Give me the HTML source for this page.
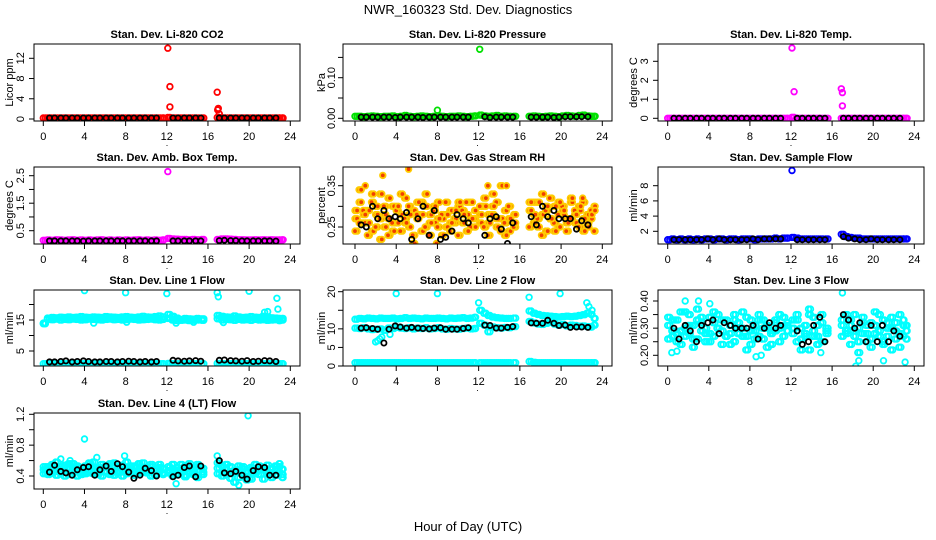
<!DOCTYPE html>
<html><head><meta charset="utf-8"><title>NWR_160323 Std. Dev. Diagnostics</title>
<style>
html,body{margin:0;padding:0;background:#fff;}
svg{display:block;font-family:"Liberation Sans",Arial,sans-serif;}
</style></head>
<body>
<svg id="chart" width="936" height="540" viewBox="0 0 936 540" xmlns="http://www.w3.org/2000/svg">
<rect width="936" height="540" fill="#fff"/>
<text x="468" y="14" text-anchor="middle" font-size="13">NWR_160323  Std. Dev. Diagnostics</text>
<text x="468" y="531" text-anchor="middle" font-size="13">Hour of Day (UTC)</text>
</svg>
<script>
// shared hour categories
const hours = [0,0.4,0.8,1.2,1.6,2,2.4,2.8,3.2,3.6,4,4.4,4.8,5.2,5.6,6,6.4,6.8,7.2,7.6,8,8.4,8.8,9.2,9.6,10,10.4,10.8,11.2,11.6,
 12.1,12.5,12.9,13.3,13.7,14.1,14.5,14.9,15.4,
 16.9,17.3,17.7,18.1,18.5,18.9,19.3,19.7,20.1,20.5,20.9,21.3,21.7,22.1,22.5,22.9,23.2];
const hoursB = [0.2,0.6,1.0,1.4,1.8,2.2,2.6,3.0,3.4,3.8,4.2,4.6,5.0,5.4,5.8,6.2,6.6,7.0,7.4,7.8,8.2,8.6,9.0,9.4,9.8,10.2,10.6,11.0,11.4,11.7,
 12.3,12.7,13.1,13.5,13.9,14.3,14.7,15.1,15.6,
 17.1,17.5,17.9,18.3,18.7,19.1,19.5,19.9,20.3,20.7,21.1,21.5,21.9,22.3,22.7,23.0,23.3];
const avgHours = [0.6,1.1,1.7,2.2,2.8,3.3,3.9,4.4,5.0,5.5,6.1,6.6,7.2,7.7,8.3,8.8,9.4,9.9,10.5,11.0,
 12.6,13.1,13.7,14.2,14.8,15.3,
 17.1,17.6,18.2,18.7,19.3,19.8,20.4,20.9,21.5,22.0,22.6];

// Panel 1: CO2
const co2Sd = [0.2,0.2,0.2,0.2,0.2,0.2,0.2,0.2,0.2,0.2,0.2,0.2,0.2,0.2,0.2,0.2,0.2,0.2,0.2,0.2,0.2,0.2,0.2,0.2,0.2,0.2,0.2,0.2,0.2,0.2,
 0.3,0.2,0.2,0.2,0.2,0.2,0.2,0.2,0.2, 0.3,0.2,0.2,0.2,0.2,0.2,0.2,0.2,0.2,0.2,0.2,0.2,0.2,0.2,0.2,0.2,0.2];
const co2Avg = [0.2,0.2,0.2,0.2,0.2,0.2,0.2,0.2,0.2,0.2,0.2,0.2,0.2,0.2,0.2,0.2,0.2,0.2,0.2,0.2, 0.2,0.2,0.2,0.2,0.2,0.2, 0.2,0.2,0.2,0.2,0.2,0.2,0.2,0.2,0.2,0.2,0.2];
const co2SpikeHours = [12.1,12.3,12.3,16.9,17.0,16.95,17.1];
const co2SpikeValues = [14,6.4,2.4,5.3,2.1,1.8,1.0];

// Panel 2: Pressure
const presSd = [0.005,0.005,0.004,0.005,0.006,0.005,0.004,0.005,0.005,0.006,0.004,0.005,0.007,0.005,0.004,0.005,0.006,0.005,0.004,0.005,0.006,0.005,0.004,0.005,0.005,0.006,0.005,0.004,0.005,0.006,
 0.008,0.006,0.005,0.006,0.007,0.005,0.006,0.005,0.005, 0.005,0.006,0.005,0.004,0.005,0.006,0.005,0.004,0.006,0.007,0.006,0.005,0.007,0.008,0.006,0.005,0.005];
const presAvg = [0.003,0.003,0.003,0.003,0.003,0.003,0.002,0.003,0.003,0.003,0.003,0.002,0.003,0.003,0.003,0.003,0.003,0.003,0.003,0.003, 0.004,0.002,0.003,0.003,0.003,0.003, 0.003,0.003,0.003,0.003,0.002,0.003,0.004,0.004,0.004,0.004,0.004];
const presSpikeHours = [8.0,12.1];
const presSpikeValues = [0.02,0.17];

// Panel 3: Li-820 Temp
const tempSd = [0,0,0,0,0,0,0,0,0,0,0,0,0,0,0,0,0,0,0,0,0,0,0,0,0,0,0,0,0,0, 0.05,0,0,0,0,0,0,0,0, 0,0,0,0,0,0,0,0,0,0,0,0,0,0,0,0,0];
const tempAvg = [0,0,0,0,0,0,0,0,0,0,0,0,0,0,0,0,0,0,0,0, 0,0,0,0,0,0, 0,0,0,0,0,0,0,0,0,0,0];
const tempSpikeHours = [12.1,12.3,16.9,17.0,17.0];
const tempSpikeValues = [3.7,1.4,1.55,1.35,0.65];

// Panel 4: Amb. Box Temp
const boxSd = [0.15,0.16,0.15,0.17,0.16,0.15,0.16,0.17,0.15,0.16,0.15,0.16,0.15,0.16,0.17,0.15,0.16,0.15,0.16,0.15,0.16,0.15,0.16,0.17,0.15,0.16,0.15,0.16,0.15,0.16,
 0.22,0.2,0.19,0.18,0.18,0.17,0.18,0.17,0.18, 0.18,0.2,0.2,0.19,0.18,0.17,0.17,0.16,0.16,0.17,0.16,0.17,0.16,0.17,0.16,0.16,0.17];
const boxAvg = [0.13,0.13,0.13,0.13,0.13,0.13,0.12,0.13,0.13,0.13,0.13,0.13,0.13,0.13,0.13,0.13,0.13,0.13,0.13,0.13, 0.13,0.13,0.13,0.13,0.13,0.13, 0.14,0.15,0.14,0.14,0.13,0.13,0.13,0.13,0.13,0.13,0.12];
const boxSpikeHours = [12.1];
const boxSpikeValues = [2.65];

// Panel 5: Gas Stream RH
const rhA = [0.27,0.31,0.26,0.29,0.24,0.28,0.33,0.25,0.27,0.30,0.26,0.28,0.32,0.25,0.29,0.27,0.24,0.30,0.28,0.26,0.31,0.27,0.25,0.29,0.27,0.30,0.26,0.28,0.31,0.29,
 0.26,0.30,0.28,0.33,0.25,0.27,0.29,0.24,0.28, 0.29,0.26,0.31,0.28,0.24,0.27,0.30,0.25,0.28,0.27,0.31,0.26,0.29,0.24,0.28,0.27,0.30];
const rhB = [0.24,0.26,0.29,0.23,0.31,0.25,0.27,0.30,0.23,0.26,0.29,0.24,0.27,0.30,0.23,0.28,0.31,0.25,0.23,0.29,0.25,0.28,0.31,0.24,0.26,0.23,0.29,0.31,0.25,0.27,
 0.30,0.25,0.23,0.28,0.31,0.24,0.26,0.30,0.25, 0.25,0.31,0.27,0.23,0.29,0.32,0.26,0.28,0.30,0.24,0.27,0.29,0.25,0.31,0.26,0.29,0.24];
const rhC = [0.29,0.34,0.28,0.26,0.33,0.30,0.22,0.28,0.32,0.24,0.30,0.33,0.26,0.28,0.21,0.31,0.28,0.33,0.26,0.30,0.27,0.23,0.28,0.26,0.29,0.31,0.28,0.24,0.27,0.25,
 0.28,0.32,0.26,0.30,0.27,0.35,0.23,0.27,0.26, 0.31,0.28,0.25,0.33,0.30,0.27,0.24,0.31,0.29,0.26,0.32,0.28,0.30,0.27,0.25,0.28,0.29];
const rhAvg = [0.255,0.25,0.30,0.27,0.29,0.27,0.275,0.27,0.285,0.22,0.27,0.30,0.23,0.29,0.22,0.225,0.24,0.28,0.27,0.26, 0.23,0.27,0.275,0.245,0.21,0.26, 0.275,0.255,0.30,0.275,0.29,0.27,0.27,0.27,0.245,0.265,0.255];
const rhSpikeHours = [2.7,5.2,1.0,14.7,12.9,7.9,22.1];
const rhSpikeValues = [0.375,0.39,0.35,0.35,0.35,0.21,0.32];

// Panel 6: Sample Flow
const sampSd = [0.9,1.0,0.9,1.0,0.9,1.0,0.9,1.0,0.9,1.0,1.0,0.9,1.0,1.0,0.9,1.0,1.0,0.9,1.0,1.0,1.0,0.9,1.0,1.0,1.0,1.0,1.1,1.0,1.1,1.1,
 1.2,1.1,1.0,1.0,1.0,1.0,1.0,1.0,1.0, 1.6,1.3,1.2,1.1,1.1,1.0,1.0,1.0,1.0,1.0,1.0,1.0,1.0,1.0,1.0,1.0,1.0];
const sampAvg = [0.9,0.9,0.9,0.9,0.9,0.9,1.0,0.9,1.0,0.9,0.9,0.9,0.9,0.9,1.0,0.9,1.0,1.0,1.0,1.0, 0.9,0.9,0.9,0.9,0.9,0.9, 1.3,1.1,1.0,0.9,0.9,1.0,0.9,0.9,0.9,0.9,0.9];
const sampSpikeHours = [12.1];
const sampSpikeValues = [10];

// Panel 7: Line 1 Flow
const line1Top = [13.8,15.6,15.8,15.7,15.9,15.8,16.0,15.8,15.9,16.1,15.9,15.8,16.0,15.9,15.8,16.1,16.0,15.9,15.8,16.0,16.1,15.9,15.8,16.0,16.2,16.0,15.9,16.1,16.3,16.0,
 16.8,16.2,15.6,15.2,15.5,15.4,15.3,15.5,15.4, 16.5,16.2,16.0,15.9,16.3,16.0,15.8,15.9,16.1,15.9,15.8,16.2,16.0,15.7,15.6,15.5,15.5];
const line1Mid = [14.0,15.2,15.1,15.3,15.0,15.2,15.1,15.3,15.2,15.0,15.1,15.3,15.2,15.1,15.0,15.2,15.3,15.1,15.2,15.0,15.1,15.3,15.2,15.0,15.1,15.2,15.3,15.1,15.0,15.2,
 15.5,15.0,14.8,14.9,15.0,14.8,14.9,15.0,14.9, 15.4,15.0,15.2,15.1,14.9,15.2,15.0,15.1,14.9,15.2,15.0,15.1,14.9,15.0,15.1,14.8,15.0];
const line1Low = [0.9,0.9,0.9,0.9,0.9,0.9,0.9,0.9,0.9,0.9,0.9,0.9,0.9,0.9,0.9,0.9,0.9,0.9,0.9,0.9,0.9,0.9,0.9,0.9,0.9,0.9,0.9,0.9,0.9,0.9,
 1.0,0.9,0.9,0.9,0.9,0.9,0.9,0.9,0.9, 1.0,0.9,0.9,0.9,0.9,0.9,0.9,0.9,0.9,0.9,0.9,0.9,0.9,0.9,0.9,0.9,0.9];
const line1Avg = [1.5,1.5,1.6,1.8,1.5,1.6,1.8,1.6,1.5,1.5,1.6,1.6,1.5,1.6,1.7,1.6,1.5,1.6,1.5,1.6, 2.0,1.8,1.7,1.8,1.9,1.7, 2.0,2.1,1.9,1.8,1.7,1.9,1.6,1.7,1.9,1.8,1.6];
const line1SpikeHours = [4.0,8.0,12.0,16.9,17.0,20.0,22.7,22.8,21.5,21.8,12.9,17.5,4.9,8.1,14.6,0.1];
const line1SpikeValues = [24.5,23.8,23.5,23.8,22.5,24.3,22,18.5,17.5,17.7,14,14.2,14,14.3,14.3,13.8];

// Panel 8: Line 2 Flow
const line2Top = [12.6,12.8,12.7,12.9,12.8,12.7,12.9,12.8,12.8,12.9,12.7,12.8,13.0,12.8,12.9,12.8,12.7,12.9,12.8,12.8,12.9,12.8,12.7,12.9,12.8,12.9,13.0,12.8,12.9,13.1,
 15.0,14.2,13.6,13.2,13.0,12.9,12.8,12.8,12.9, 14.8,14.2,13.9,13.6,13.5,13.4,13.3,13.2,13.3,13.4,13.3,13.4,13.6,13.8,14.2,13.9,12.8];
const line2Mid = [10.2,10.1,10.3,10.0,9.8,9.9,10.0,9.6,10.2,10.1,10.4,10.2,10.1,10.3,10.0,10.2,10.1,10.3,10.0,10.1,10.3,10.0,9.9,10.1,10.0,9.9,10.1,10.2,10.0,10.1,
 11.5,11.0,9.2,10.5,10.3,10.2,10.4,10.3,10.6, 12.0,11.6,11.3,11.2,11.5,11.8,11.3,11.0,11.2,10.8,11.0,10.9,10.7,10.8,10.6,10.5,11.0];
const line2Low = [0.9,0.9,0.9,0.9,0.9,0.9,0.9,0.9,0.9,0.9,0.9,0.9,0.9,0.9,0.9,0.9,0.9,0.9,0.9,0.9,0.9,0.9,0.9,0.9,0.9,0.9,0.9,0.9,0.9,0.9,
 0.9,0.9,0.9,0.9,0.9,0.9,0.9,0.9,0.9, 1.2,1.0,0.9,0.9,0.9,0.9,0.9,0.9,0.9,0.9,0.9,0.9,0.9,0.9,0.9,0.9,0.9];
const line2Avg = [10.2,10.3,10.1,9.9,6.2,9.9,10.8,10.5,10.2,10.4,10.2,10.1,10.0,10.2,10.3,9.9,9.9,9.9,10.1,10.3, 11.0,10.9,10.2,10.2,10.4,10.6, 11.6,11.5,11.5,12.3,11.5,10.9,11.0,10.4,10.5,10.5,10.4];
const line2SpikeHours = [4.0,8.0,12.0,16.9,19.9,2.0,2.2,2.4,2.6,22.5,22.7,23.0,3.4];
const line2SpikeValues = [19.5,19.5,17,18.5,19.5,6.5,6.8,7.3,7.8,17,16,15,8.5];

// Panel 9: Line 3 Flow
const line3A = [0.31,0.27,0.33,0.29,0.36,0.28,0.31,0.26,0.34,0.30,0.28,0.32,0.35,0.29,0.27,0.31,0.33,0.28,0.30,0.34,0.29,0.31,0.27,0.33,0.30,0.28,0.32,0.30,0.34,0.31,
 0.28,0.33,0.26,0.31,0.35,0.29,0.27,0.32,0.30, 0.33,0.29,0.31,0.27,0.30,0.32,0.28,0.26,0.31,0.29,0.33,0.27,0.30,0.32,0.28,0.31,0.29];
const line3B = [0.26,0.33,0.28,0.24,0.30,0.35,0.26,0.33,0.29,0.25,0.34,0.27,0.30,0.24,0.33,0.28,0.25,0.32,0.36,0.27,0.24,0.29,0.33,0.26,0.31,0.24,0.29,0.35,0.27,0.32,
 0.33,0.25,0.30,0.27,0.22,0.34,0.31,0.25,0.28, 0.27,0.35,0.24,0.29,0.25,0.34,0.31,0.23,0.28,0.35,0.25,0.30,0.34,0.26,0.23,0.33,0.26];
const line3C = [0.34,0.29,0.25,0.36,0.27,0.31,0.23,0.37,0.32,0.28,0.25,0.36,0.30,0.33,0.27,0.24,0.35,0.30,0.27,0.22,0.33,0.26,0.35,0.30,0.23,0.29,0.33,0.25,0.31,0.29,
 0.30,0.35,0.22,0.28,0.37,0.27,0.24,0.35,0.29, 0.31,0.28,0.33,0.35,0.21,0.28,0.25,0.32,0.36,0.27,0.24,0.32,0.22,0.29,0.35,0.27,0.31];
const line3Avg = [0.30,0.26,0.31,0.29,0.25,0.31,0.32,0.33,0.28,0.32,0.31,0.30,0.30,0.30,0.31,0.26,0.30,0.32,0.30,0.31, 0.29,0.24,0.25,0.31,0.34,0.25, 0.35,0.33,0.30,0.32,0.25,0.31,0.25,0.31,0.25,0.29,0.27];
const line3SpikeHours = [1.7,3.0,4.1,0.4,0.9,8.6,9.1,17.0,18.3,18.6,23.1,21.0,14.9];
const line3SpikeValues = [0.40,0.40,0.39,0.21,0.215,0.195,0.20,0.43,0.16,0.18,0.175,0.18,0.21];

// Panel 10: Line 4 (LT) Flow
const line4A = [0.48,0.52,0.44,0.50,0.46,0.54,0.42,0.49,0.51,0.45,0.53,0.47,0.43,0.50,0.55,0.46,0.48,0.52,0.44,0.49,0.51,0.45,0.53,0.47,0.50,0.44,0.52,0.48,0.46,0.50,
 0.47,0.43,0.51,0.46,0.53,0.44,0.49,0.52,0.45, 0.50,0.46,0.42,0.52,0.47,0.38,0.49,0.44,0.51,0.46,0.53,0.48,0.43,0.50,0.47,0.52,0.49];
const line4B = [0.43,0.47,0.55,0.41,0.52,0.45,0.49,0.56,0.40,0.50,0.43,0.57,0.49,0.42,0.51,0.45,0.56,0.41,0.50,0.54,0.43,0.49,0.41,0.56,0.45,0.51,0.40,0.47,0.55,0.44,
 0.52,0.40,0.47,0.55,0.41,0.50,0.45,0.38,0.50, 0.43,0.53,0.48,0.37,0.45,0.53,0.41,0.35,0.48,0.55,0.42,0.51,0.46,0.38,0.53,0.45,0.42];
const line4C = [0.52,0.42,0.49,0.58,0.44,0.40,0.56,0.46,0.53,0.42,0.48,0.44,0.58,0.46,0.40,0.53,0.42,0.57,0.47,0.40,0.58,0.53,0.46,0.43,0.57,0.48,0.55,0.41,0.51,0.42,
 0.44,0.55,0.42,0.49,0.39,0.56,0.42,0.55,0.42, 0.57,0.40,0.55,0.45,0.32,0.48,0.52,0.40,0.36,0.43,0.50,0.36,0.54,0.44,0.41,0.56,0.38];
const line4Avg = [0.45,0.54,0.46,0.44,0.41,0.48,0.51,0.52,0.41,0.48,0.53,0.46,0.56,0.52,0.45,0.37,0.41,0.50,0.47,0.40, 0.39,0.41,0.51,0.53,0.39,0.53, 0.60,0.44,0.43,0.46,0.41,0.36,0.47,0.52,0.51,0.41,0.41];
const line4SpikeHours = [4.0,19.9,1.7,2.6,7.9,16.9,5.2,12.9,19.0];
const line4SpikeValues = [0.88,1.18,0.62,0.60,0.66,0.66,0.64,0.30,0.28];

// Axis tick arrays
const xTicks = [0,4,8,12,16,20,24];
const co2Ticks = [0,4,8,12];           const co2Labels = ["0","4","8","12"];
const presTicks = [0,0.05,0.1,0.15];   const presLabels = ["0.00","","0.10",""];
const tempTicks = [0,1,2,3];           const tempLabels = ["0","1","2","3"];
const boxTicks = [0.5,1,1.5,2,2.5];    const boxLabels = ["0.5","","1.5","","2.5"];
const rhTicks = [0.25,0.3,0.35];       const rhLabels = ["0.25","","0.35"];
const sampTicks = [2,4,6,8];           const sampLabels = ["2","4","6","8"];
const line1Ticks = [5,10,15,20];       const line1Labels = ["5","","15",""];
const line2Ticks = [0,5,10,15,20];     const line2Labels = ["0","5","10","","20"];
const line3Ticks = [0.2,0.25,0.3,0.35,0.4]; const line3Labels = ["0.20","","0.30","","0.40"];
const line4Ticks = [0.4,0.6,0.8,1.0,1.2];   const line4Labels = ["0.4","","0.8","","1.2"];

const NS = "http://www.w3.org/2000/svg";
const svg = document.getElementById("chart");
function mk(tag, attrs, parent){
  const e = document.createElementNS(NS, tag);
  for (const k in attrs) e.setAttribute(k, attrs[k]);
  (parent||svg).appendChild(e);
  return e;
}
// layout geometry (pixels)
const cols = [{bl:34,br:300,x0:43.3,x24:290.3,lab:20,ttl:9},
              {bl:343,br:612,x0:355,x24:602.3,lab:331,ttl:321},
              {bl:658,br:924,x0:667.7,x24:914.3,lab:644,ttl:633}];
const rows = [{bt:44,bb:121},{bt:167,bb:244},{bt:290,bb:366},{bt:413,bb:489}];

function panel(name, title, ytitle, c, r, yA, pA, yB, pB, ticks, labels, layers){
  const col = cols[c], row = rows[r];
  const g = mk("g", {});
  
  
  const sx = h => col.x0 + (col.x24 - col.x0) * h / 24;
  const sy = v => pA + (pB - pA) * (v - yA) / (yB - yA);
  const t = mk("text", {x:(col.bl+col.br)/2, y:row.bt-6, "text-anchor":"middle", "font-size":11, "font-weight":"bold"}, g);
  t.textContent = title;
  
  
  const clipId = "clip-" + name;
  const cp = mk("clipPath", {id:clipId}, g);
  mk("rect", {x:col.bl, y:row.bt, width:col.br-col.bl, height:row.bb-row.bt}, cp);
  const pts = mk("g", {"clip-path":"url(#"+clipId+")"}, g);
  
  
  layers.forEach(L => {
    const black = L.color === "#000";
    for (let i = 0; i < L.x.length; i++) {
      const cc = mk("circle", {cx:sx(L.x[i]).toFixed(1), cy:sy(L.y[i]).toFixed(1), r:black ? 2.6 : 2.8, fill:L.fill || "none", stroke:L.color, "stroke-width":black ? 1.8 : 1.8}, pts);
      
      
    }
  });
  const box = mk("rect", {x:col.bl, y:row.bt, width:col.br-col.bl, height:row.bb-row.bt, fill:"none", stroke:"#000", "stroke-width":1}, g);
  
  
  const xa = mk("g", {}, g);
  
  
  mk("line", {x1:sx(xTicks[0]), x2:sx(xTicks[xTicks.length-1]), y1:row.bb, y2:row.bb, stroke:"#000"}, xa);
  xTicks.forEach(h => {
    mk("line", {x1:sx(h), x2:sx(h), y1:row.bb, y2:row.bb+5, stroke:"#000"}, xa);
    const tl = mk("text", {x:sx(h), y:row.bb+19, "text-anchor":"middle", "font-size":11}, xa);
    tl.textContent = String(h);
    
    
  });
  const dot = mk("text", {x:(col.bl+col.br)/2, y:row.bb+25, "text-anchor":"middle", "font-size":9}, xa);
  dot.textContent = ".";
  const ya = mk("g", {}, g);
  
  
  mk("line", {x1:col.bl, x2:col.bl, y1:sy(ticks[0]), y2:sy(ticks[ticks.length-1]), stroke:"#000"}, ya);
  ticks.forEach((v, i) => {
    mk("line", {x1:col.bl-5, x2:col.bl, y1:sy(v), y2:sy(v), stroke:"#000"}, ya);
    if (labels[i]) {
      const y = sy(v);
      const tl = mk("text", {x:col.lab, y:y, "text-anchor":"middle", "font-size":11, transform:"rotate(-90 "+col.lab+" "+y+")", dy:"0.35em"}, ya);
      tl.textContent = labels[i];
      
      
    }
  });
  const cy = (row.bt + row.bb) / 2;
  const yt = mk("text", {x:col.ttl, y:cy, "text-anchor":"middle", "font-size":11, transform:"rotate(-90 "+col.ttl+" "+cy+")", dy:"0.35em"}, g);
  yt.textContent = ytitle;
  
  
}

panel("co2", "Stan. Dev. Li-820 CO2", "Licor ppm", 0, 0, 0, 119, 12, 58.3, co2Ticks, co2Labels, [
  {name:"co2-point", x:hours, y:co2Sd, color:"#ff0000"},
  {name:"co2-point", x:hoursB, y:co2Sd, color:"#ff0000"},
  {name:"co2-spike", x:co2SpikeHours, y:co2SpikeValues, color:"#ff0000"},
  {name:"co2-hourly-avg", x:avgHours, y:co2Avg, color:"#000"}]);
panel("pressure", "Stan. Dev. Li-820 Pressure", "kPa", 1, 0, 0, 118.3, 0.1, 77.7, presTicks, presLabels, [
  {name:"pressure-point", x:hours, y:presSd, color:"#00e000"},
  {name:"pressure-point", x:hoursB, y:presSd, color:"#00e000"},
  {name:"pressure-spike", x:presSpikeHours, y:presSpikeValues, color:"#00e000"},
  {name:"pressure-hourly-avg", x:avgHours, y:presAvg, color:"#000"}]);
panel("temp", "Stan. Dev. Li-820 Temp.", "degrees C", 2, 0, 0, 118.3, 3, 61.3, tempTicks, tempLabels, [
  {name:"temp-point", x:hours, y:tempSd, color:"#ff00ff"},
  {name:"temp-point", x:hoursB, y:tempSd, color:"#ff00ff"},
  {name:"temp-spike", x:tempSpikeHours, y:tempSpikeValues, color:"#ff00ff"},
  {name:"temp-hourly-avg", x:avgHours, y:tempAvg, color:"#000"}]);
panel("box-temp", "Stan. Dev. Amb. Box Temp.", "degrees C", 0, 1, 0.5, 230.7, 2.5, 175.7, boxTicks, boxLabels, [
  {name:"box-temp-point", x:hours, y:boxSd, color:"#ff00ff"},
  {name:"box-temp-point", x:hoursB, y:boxSd, color:"#ff00ff"},
  {name:"box-temp-spike", x:boxSpikeHours, y:boxSpikeValues, color:"#ff00ff"},
  {name:"box-temp-hourly-avg", x:avgHours, y:boxAvg, color:"#000"}]);
panel("rh", "Stan. Dev. Gas Stream RH", "percent", 1, 1, 0.25, 227, 0.35, 185.7, rhTicks, rhLabels, [
  {name:"rh-point", x:hours, y:rhA, color:"#ffcc00", fill:"#f04000"},
  {name:"rh-point", x:hoursB, y:rhB, color:"#ffcc00", fill:"#f04000"},
  {name:"rh-point", x:hours, y:rhC, color:"#ffcc00", fill:"#f04000"},
  {name:"rh-point", x:hoursB, y:rhA, color:"#ffcc00", fill:"#f04000"},
  {name:"rh-point", x:hours, y:rhB, color:"#ffcc00", fill:"#f04000"},
  {name:"rh-point", x:hoursB, y:rhC, color:"#ffcc00", fill:"#f04000"},
  {name:"rh-spike", x:rhSpikeHours, y:rhSpikeValues, color:"#ffcc00", fill:"#f04000"},
  {name:"rh-hourly-avg", x:avgHours, y:rhAvg, color:"#000"}]);
panel("sample-flow", "Stan. Dev. Sample Flow", "ml/min", 2, 1, 2, 231.3, 8, 185.7, sampTicks, sampLabels, [
  {name:"sample-flow-point", x:hours, y:sampSd, color:"#0000ff"},
  {name:"sample-flow-point", x:hoursB, y:sampSd, color:"#0000ff"},
  {name:"sample-flow-spike", x:sampSpikeHours, y:sampSpikeValues, color:"#0000ff"},
  {name:"sample-flow-hourly-avg", x:avgHours, y:sampAvg, color:"#000"}]);
panel("line1", "Stan. Dev. Line 1 Flow", "ml/min", 0, 2, 5, 351, 15, 320, line1Ticks, line1Labels, [
  {name:"line1-point", x:hours, y:line1Top, color:"#00ffff"},
  {name:"line1-point", x:hoursB, y:line1Mid, color:"#00ffff"},
  {name:"line1-point", x:hoursB, y:line1Top, color:"#00ffff"},
  {name:"line1-point", x:hours, y:line1Mid, color:"#00ffff"},
  {name:"line1-point", x:hours, y:line1Low, color:"#00ffff"},
  {name:"line1-point", x:hoursB, y:line1Low, color:"#00ffff"},
  {name:"line1-spike", x:line1SpikeHours, y:line1SpikeValues, color:"#00ffff"},
  {name:"line1-hourly-avg", x:avgHours, y:line1Avg, color:"#000"}]);
panel("line2", "Stan. Dev. Line 2 Flow", "ml/min", 1, 2, 0, 366, 20, 291.7, line2Ticks, line2Labels, [
  {name:"line2-point", x:hours, y:line2Top, color:"#00ffff"},
  {name:"line2-point", x:hoursB, y:line2Top, color:"#00ffff"},
  {name:"line2-point", x:hours, y:line2Mid, color:"#00ffff"},
  {name:"line2-point", x:hoursB, y:line2Mid, color:"#00ffff"},
  {name:"line2-point", x:hours, y:line2Low, color:"#00ffff"},
  {name:"line2-point", x:hoursB, y:line2Low, color:"#00ffff"},
  {name:"line2-spike", x:line2SpikeHours, y:line2SpikeValues, color:"#00ffff"},
  {name:"line2-hourly-avg", x:avgHours, y:line2Avg, color:"#000"}]);
panel("line3", "Stan. Dev. Line 3 Flow", "ml/min", 2, 2, 0.2, 355.3, 0.4, 301, line3Ticks, line3Labels, [
  {name:"line3-point", x:hours, y:line3A, color:"#00ffff"},
  {name:"line3-point", x:hoursB, y:line3B, color:"#00ffff"},
  {name:"line3-point", x:hours, y:line3C, color:"#00ffff"},
  {name:"line3-point", x:hoursB, y:line3A, color:"#00ffff"},
  {name:"line3-point", x:hours, y:line3B, color:"#00ffff"},
  {name:"line3-point", x:hoursB, y:line3C, color:"#00ffff"},
  {name:"line3-spike", x:line3SpikeHours, y:line3SpikeValues, color:"#00ffff"},
  {name:"line3-hourly-avg", x:avgHours, y:line3Avg, color:"#000"}]);
panel("line4", "Stan. Dev. Line 4 (LT) Flow", "ml/min", 0, 3, 0.4, 476, 1.2, 414.3, line4Ticks, line4Labels, [
  {name:"line4-point", x:hours, y:line4A, color:"#00ffff"},
  {name:"line4-point", x:hoursB, y:line4B, color:"#00ffff"},
  {name:"line4-point", x:hours, y:line4C, color:"#00ffff"},
  {name:"line4-point", x:hoursB, y:line4A, color:"#00ffff"},
  {name:"line4-point", x:hours, y:line4B, color:"#00ffff"},
  {name:"line4-point", x:hoursB, y:line4C, color:"#00ffff"},
  {name:"line4-spike", x:line4SpikeHours, y:line4SpikeValues, color:"#00ffff"},
  {name:"line4-hourly-avg", x:avgHours, y:line4Avg, color:"#000"}]);
</script>
</body></html>
